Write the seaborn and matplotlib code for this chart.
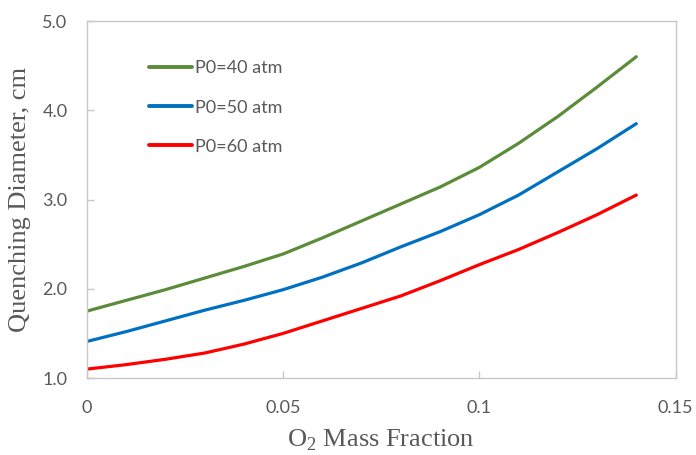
import numpy as np
import pandas as pd
import matplotlib
matplotlib.use("Agg")
import matplotlib.pyplot as plt
import seaborn as sns

# O2 mass fraction sample points
o2_fraction = [0.00, 0.01, 0.02, 0.03, 0.04, 0.05, 0.06, 0.07,
               0.08, 0.09, 0.10, 0.11, 0.12, 0.13, 0.14]

# Quenching diameter (cm) for each initial pressure
d_40atm = [1.75, 1.87, 1.99, 2.12, 2.25, 2.39, 2.57, 2.76,
           2.95, 3.14, 3.36, 3.63, 3.93, 4.26, 4.60]
d_50atm = [1.41, 1.52, 1.64, 1.76, 1.87, 1.99, 2.13, 2.29,
           2.47, 2.64, 2.83, 3.05, 3.31, 3.57, 3.85]
d_60atm = [1.10, 1.15, 1.21, 1.28, 1.38, 1.50, 1.64, 1.78,
           1.92, 2.09, 2.27, 2.44, 2.63, 2.83, 3.05]

series_names = ["P0=40 atm", "P0=50 atm", "P0=60 atm"]
series_colors = ["#5b8c3a", "#0070c0", "#ff0000"]

x_ticks = [0, 0.05, 0.1, 0.15]
x_tick_labels = ["0", "0.05", "0.1", "0.15"]
y_ticks = [1.0, 2.0, 3.0, 4.0, 5.0]
y_tick_labels = ["1.0", "2.0", "3.0", "4.0", "5.0"]

frames = []
for name, values in zip(series_names, [d_40atm, d_50atm, d_60atm]):
    frames.append(pd.DataFrame({"x": o2_fraction, "y": values, "series": name}))
df = pd.concat(frames, ignore_index=True)

sns.set_theme(style="white")
plt.rcParams["font.family"] = ["Lato", "DejaVu Sans"]
plt.rcParams["mathtext.fontset"] = "custom"
plt.rcParams["mathtext.rm"] = "Liberation Serif"

text_grey = "#595959"
frame_grey = "#c8c8c8"

fig = plt.figure(figsize=(6.96, 4.55), dpi=100)
ax = fig.add_axes([0.125, 0.1692, 0.8456, 0.7846])

sns.lineplot(data=df, x="x", y="y", hue="series", hue_order=series_names,
             palette=series_colors, linewidth=2.3, ax=ax, legend=True)

ax.set_xlim(0, 0.15)
ax.set_ylim(1.0, 5.0)
ax.set_xticks(x_ticks)
ax.set_xticklabels(x_tick_labels)
ax.set_yticks(y_ticks)
ax.set_yticklabels(y_tick_labels)

for spine in ax.spines.values():
    spine.set_color(frame_grey)
    spine.set_linewidth(1.0)

ax.tick_params(axis="x", direction="in", length=5, width=1, color=frame_grey,
               labelsize=13, labelcolor=text_grey, pad=16, bottom=True)
ax.tick_params(axis="y", direction="in", length=5, width=1, color=frame_grey,
               labelsize=13, labelcolor=text_grey, pad=14, left=True)

serif = ["Liberation Serif", "DejaVu Serif"]
ax.set_xlabel(r"O$_2$ Mass Fraction", family=serif, fontsize=19,
              color=text_grey, labelpad=8)
ax.set_ylabel("Quenching Diameter, cm", family=serif, fontsize=19,
              color=text_grey, labelpad=8)

leg = ax.legend(loc="upper left", bbox_to_anchor=(0.078, 0.935),
                frameon=False, fontsize=13, handlelength=2.4,
                handletextpad=0.15, labelspacing=1.28)
for txt in leg.get_texts():
    txt.set_color(text_grey)
for line in leg.get_lines():
    line.set_linewidth(2.8)

fig.savefig("out.png", dpi=100)
